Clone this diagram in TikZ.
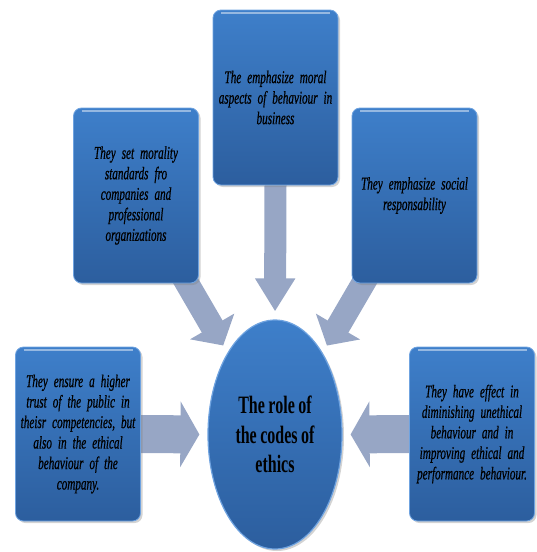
\documentclass[tikz,border=0pt]{standalone}
\usepackage{fontspec}
\usetikzlibrary{arrows.meta,shadows,backgrounds,shapes.geometric}
\newfontfamily\boxfont[FakeStretch=0.62,FakeBold=0.6]{Liberation Serif}
\newfontfamily\centerfont[FakeStretch=0.64]{Liberation Serif}
\newcommand\myboxfont{\boxfont\itshape\fontsize{18}{20.5}\selectfont\setlength{\spaceskip}{2pt plus 1pt minus 0.5pt}\hyphenpenalty=10000\relax}
\newcommand\myhubfont{\centerfont\bfseries\fontsize{25}{29.5}\selectfont\setlength{\spaceskip}{3.5pt plus 1pt minus 0.5pt}}
\definecolor{boxtop}{HTML}{3E7FCA}
\definecolor{boxbot}{HTML}{2C5E9E}
\definecolor{boxrim}{HTML}{6FA3E0}
\definecolor{arrowcol}{HTML}{97A6C5}
\tikzset{
  infobox/.style={rectangle, rounded corners=8pt, minimum width=125pt, minimum height=175pt,
    top color=boxtop, bottom color=boxbot, draw=boxrim, line width=0.8pt,
    drop shadow={opacity=0.35, shadow xshift=2pt, shadow yshift=-2pt},
    align=center, text width=124pt, inner xsep=0pt,
    font=\myboxfont, text=black,
    path picture={\draw[white,opacity=0.45,line width=1.5pt]
      ([xshift=8pt,yshift=-3pt]path picture bounding box.north west) --
      ([xshift=-8pt,yshift=-3pt]path picture bounding box.north east);}},
  hubnode/.style={ellipse, minimum width=134pt, minimum height=229pt, inner sep=0pt,
    top color=boxtop, bottom color=boxbot, draw=boxrim, line width=1.2pt,
    drop shadow={opacity=0.35, shadow xshift=2pt, shadow yshift=-2pt},
    align=center, font=\myhubfont, text=black},
  straightarrow/.style={draw=arrowcol, line width=#1},
}
\begin{document}
\begin{tikzpicture}[x=1pt,y=-1pt]
\useasboundingbox (0,0) rectangle (536,552);
\node[infobox] (top) at (275.5,97.5) {The emphasize moral\\aspects of behaviour in\\business};
\node[infobox] (lu) at (136,195.5) {They set morality\\standards fro\\companies and\\professional\\organizations};
\node[infobox] (ru) at (414.5,195.5) {They emphasize social\\responsability};
\node[infobox, minimum height=174pt] (ll) at (78,434) {They ensure a higher\\trust of the public in\\theisr competencies, but\\also in the ethical\\behaviour of the\\company.};
\node[infobox, minimum height=174pt] (rl) at (472,434) {They have effect in\\diminishing unethical\\behaviour and in\\improving ethical and\\performance behaviour.};
\node[hubnode] (ell) at (275,434.5) {The role of\\the codes of\\ethics};
\begin{scope}[on background layer]
\draw[straightarrow=22pt, -{Triangle[width=38pt,length=33pt]}, shorten >=8pt] (top.south) -- (ell.north);
\draw[straightarrow=24pt, -{Triangle[width=50pt,length=22pt]}, shorten >=103pt] (lu.center) -- (ell.center);
\draw[straightarrow=24pt, -{Triangle[width=50pt,length=22pt]}, shorten >=103pt] (ru.center) -- (ell.center);
\draw[straightarrow=38pt, -{Triangle[width=65pt,length=19pt]}, shorten >=8pt] (ll.east) -- (ell.west);
\draw[straightarrow=38pt, -{Triangle[width=65pt,length=19pt]}, shorten >=8pt] (rl.west) -- (ell.east);
\end{scope}
\end{tikzpicture}
\end{document}
